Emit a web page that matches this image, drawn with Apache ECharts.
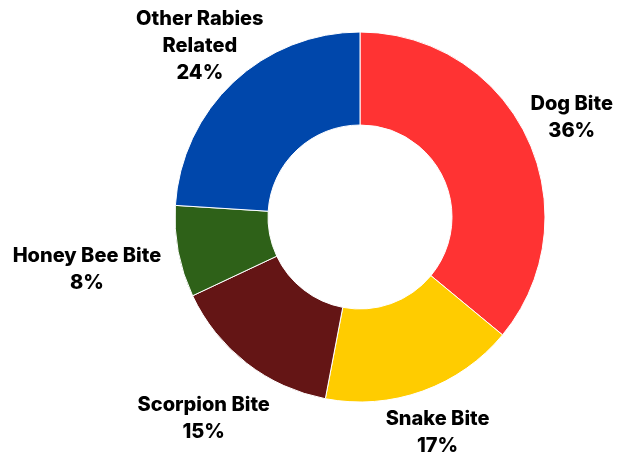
<!DOCTYPE html>
<html>
<head>
<meta charset="utf-8">
<script src="https://cdn.jsdelivr.net/npm/echarts@6/dist/echarts.min.js"></script>
<style>
html,body{margin:0;padding:0;background:#fff;}
#chart{width:619px;height:455px;}
</style>
</head>
<body>
<div id="chart"></div>
<script>
const categories = ['Dog Bite', 'Snake Bite', 'Scorpion Bite', 'Honey Bee Bite', 'Other Rabies\nRelated'];
const values = [36, 17, 15, 8, 24];
const colors = ['#FF3333', '#FFCC00', '#641515', '#2E6118', '#0047AB'];

// layout (style) settings
const CENTER = [360, 217];
const RADII = [92, 185];
const LABEL_DIST = [234, 229, 255, 278, 234];

const total = values.reduce((a, b) => a + b, 0);
const midAngles = [];
let acc = 0;
values.forEach(v => {
  const mid = acc + v / 2;
  midAngles.push((90 - mid / total * 360) * Math.PI / 180);
  acc += v;
});

const chart = echarts.init(document.getElementById('chart'));
chart.setOption({
  animation: false,
  series: [{
    type: 'pie',
    center: CENTER,
    radius: RADII,
    startAngle: 90,
    clockwise: true,
    avoidLabelOverlap: false,
    itemStyle: { borderColor: '#ffffff', borderWidth: 1 },
    label: {
      show: true,
      position: 'outside',
      formatter: p => p.name + '\n' + p.value + '%',
      fontFamily: 'Inter',
      fontWeight: 800,
      fontSize: 20,
      lineHeight: 27,
      color: '#000000',
      align: 'center'
    },
    labelLine: { show: false },
    labelLayout: function (params) {
      const i = params.dataIndex;
      const a = midAngles[i];
      return {
        x: CENTER[0] + Math.cos(a) * LABEL_DIST[i],
        y: CENTER[1] - Math.sin(a) * LABEL_DIST[i],
        align: 'center',
        verticalAlign: 'middle'
      };
    },
    data: categories.map((c, i) => ({ name: c, value: values[i], itemStyle: { color: colors[i] } }))
  }]
});
</script>
</body>
</html>
